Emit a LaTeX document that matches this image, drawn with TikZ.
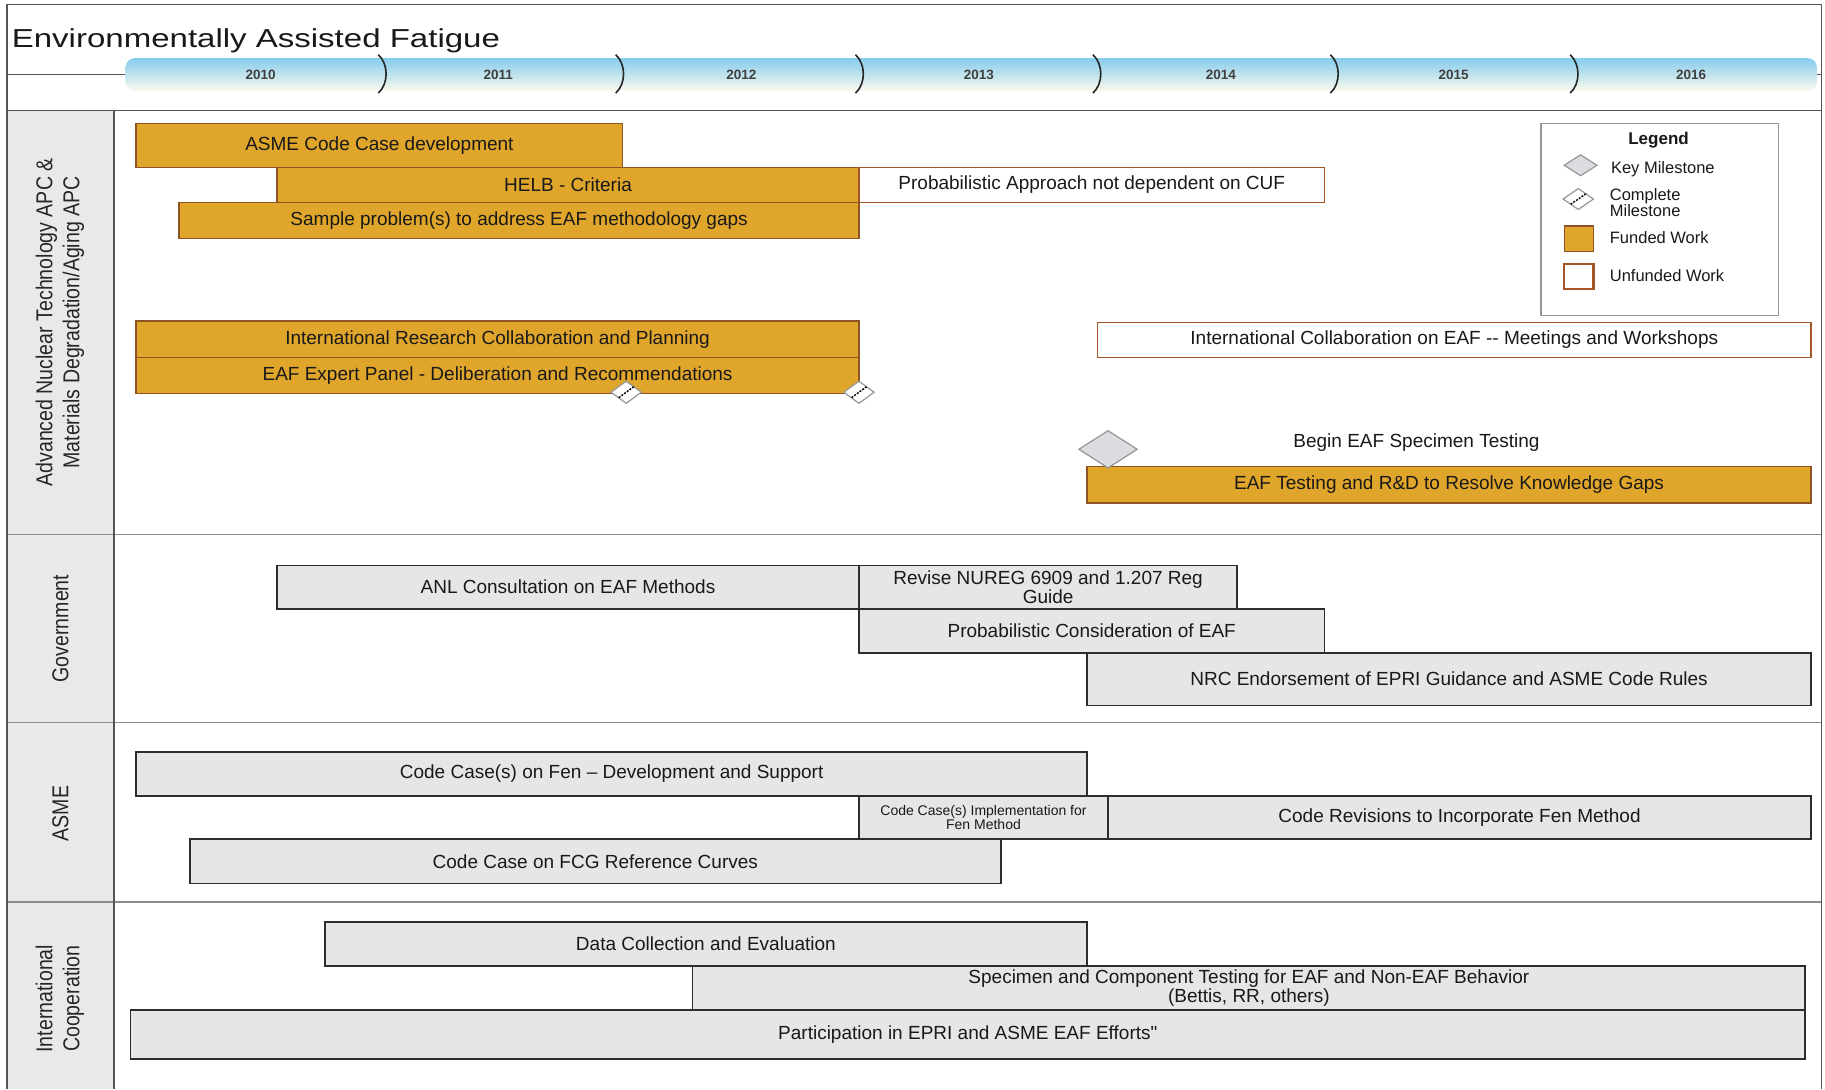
\documentclass[tikz,border=0pt]{standalone}
\usepackage{fontspec}
\setmainfont[Ligatures=TeXOff]{Liberation Sans}
\usepackage{graphicx}

\definecolor{fundfill}{RGB}{224,166,44}
\definecolor{fundline}{RGB}{140,85,35}
\definecolor{unfline}{RGB}{165,85,40}
\definecolor{boxfill}{RGB}{229,230,232}
\definecolor{boxline}{RGB}{45,45,45}
\definecolor{sidefill}{RGB}{232,233,235}
\definecolor{framecol}{RGB}{85,85,85}
\definecolor{sepcol}{RGB}{140,140,140}
\definecolor{barblue}{RGB}{135,204,236}
\definecolor{barpale}{RGB}{250,250,238}
\definecolor{txt}{RGB}{25,25,25}
\definecolor{msfill}{RGB}{220,221,224}
\definecolor{msline}{RGB}{150,150,150}

\tikzset{
  boxtxt/.style={font=\fontsize{19}{19}\selectfont, text=txt, align=center, inner sep=0pt},
  funded/.style={boxtxt, draw=fundline, fill=fundfill, line width=1.5pt},
  unfunded/.style={boxtxt, draw=unfline, fill=white, line width=1.5pt},
  graybox/.style={boxtxt, draw=boxline, fill=boxfill, line width=1.6pt},
  framestyle/.style={draw=framecol, line width=1.6pt},
  sepline/.style={draw=sepcol, line width=1.3pt},
  yearsep/.style={draw=black!85, line width=1.6pt},
  yearlbl/.style={font=\fontsize{13.5}{14}\selectfont\bfseries, text=black!75, inner sep=0pt},
  sidelbl/.style={rotate=90, font=\fontsize{23}{27}\selectfont, text=black!85, inner sep=0pt},
  legtxt/.style={font=\fontsize{16.5}{16}\selectfont, text=txt, anchor=west, align=left, inner sep=0pt},
  plaintxt/.style={font=\fontsize{19}{19}\selectfont, text=txt, inner sep=0pt},
}

% task bar: name, style, x1, x2, y1, y2, text
\newcommand{\ganttbox}[7]{%
  \node[#2, minimum width={(#4-#3)*1.1639pt}, minimum height={(#6-#5)*1.1639pt}]
    (#1) at ({(#3+#4)/2},{(#5+#6)/2}) {#7};}
% key milestone diamond: x, y, width, height
\newcommand{\keymile}[4]{%
  \draw[draw=msline, fill=msfill, line width=1.2pt]
    (#1-#3/2,#2) -- (#1,#2-#4/2) -- (#1+#3/2,#2) -- (#1,#2+#4/2) -- cycle;}
% completed milestone diamond: x, y, width, height
\newcommand{\donemile}[4]{%
  \draw[draw=msline, fill=white, line width=1.2pt]
    (#1-#3/2,#2) -- (#1,#2-#4/2) -- (#1+#3/2,#2) -- (#1,#2+#4/2) -- cycle;
  \draw[black, line width=1.4pt, dash pattern=on 2pt off 1.3pt]
    (#1+#3/4,#2-#4/4) -- (#1-#3/4,#2+#4/4);}

\begin{document}
\begin{tikzpicture}[x=1.1639pt, y=-1.1639pt]
\useasboundingbox (0,0) rectangle (1568,936);
\fill[white] (0,0) rectangle (1568,936);

% side column and frame
\fill[sidefill] (6,95) rectangle (98,936);
\draw[sepline] (6,459) -- (1565,459);
\draw[sepline] (6,621) -- (1565,621);
\draw[sepline] (6,775) -- (1565,775);
\draw[framestyle] (98,95) -- (98,936);
\draw[framestyle] (6,936) -- (6,4) -- (1565,4) -- (1565,936);
\draw[framestyle] (6,95) -- (1565,95);

% title
\node[anchor=base west, inner sep=0pt, font=\fontsize{26}{28}\selectfont, text=black!90]
  (title) at (10,40.5) {\scalebox{1.27}[1]{Environmentally Assisted Fatigue}};

% timeline bar
\draw[framestyle, line width=1.3pt] (6,64) -- (112,64);
\draw[framestyle, line width=1.3pt] (1558,64) -- (1565,64);
\shade[top color=barblue, middle color=barblue, bottom color=barpale, rounded corners=9pt]
  (108,50) rectangle (1561,78);
\foreach \s in {328,532,738,942,1146,1352}
  \draw[yearsep] (\s-3,47) .. controls (\s+6,55) and (\s+6,72) .. (\s-3,80);
\foreach \yr/\xx in {2010/224,2011/428,2012/637,2013/841,2014/1049,2015/1249,2016/1453}
  \node[yearlbl] (y\yr) at (\xx,64) {\yr};

% side labels
\node[sidelbl] (lab1) at (52,277) {\scalebox{0.85}[1]{\begin{tabular}{@{}c@{}}Advanced Nuclear Technology APC \&\\Materials Degradation/Aging APC\end{tabular}}};
\node[sidelbl] (lab2) at (52,540) {\scalebox{0.85}[1]{Government}};
\node[sidelbl] (lab3) at (52,699) {\scalebox{0.85}[1]{ASME}};
\node[sidelbl] (lab4) at (52,858) {\scalebox{0.85}[1]{\begin{tabular}{@{}c@{}}International\\Cooperation\end{tabular}}};

% APC rows
\ganttbox{a1}{funded}{117}{535}{106}{144}{ASME Code Case development}
\ganttbox{a2}{funded}{238}{738}{144}{174}{HELB - Criteria}
\ganttbox{a3}{unfunded}{738}{1138}{144}{174}{Probabilistic Approach not dependent on CUF}
\ganttbox{a4}{funded}{154}{738}{174}{205}{Sample problem(s) to address EAF methodology gaps}
\ganttbox{a5}{funded}{117}{738}{276}{307}{International Research Collaboration and Planning}
\ganttbox{a6}{funded}{117}{738}{307}{338}{EAF Expert Panel - Deliberation and Recommendations}
\ganttbox{a7}{unfunded}{943}{1556}{277}{307}{International Collaboration on EAF -- Meetings and Workshops}
\ganttbox{a8}{funded}{934}{1556}{401}{432}{EAF Testing and R\&D to Resolve Knowledge Gaps}
\donemile{538}{337}{26}{19}
\donemile{738}{337}{26}{19}
\keymile{952}{386}{50}{32}
\node[plaintxt] (begin) at (1217,380) {Begin EAF Specimen Testing};

% legend
\draw[draw=msline, line width=1.2pt, fill=white] (1324,106) rectangle (1528,271);
\node[font=\fontsize{17}{17}\selectfont\bfseries, text=txt, inner sep=0pt] (legtitle) at (1425,120) {Legend};
\keymile{1358}{142}{28}{18}
\node[legtxt] (lkey) at (1384,145) {Key Milestone};
\donemile{1356}{171}{26}{18}
\node[legtxt, font=\fontsize{16.5}{15.5}\selectfont] (ldone) at (1383,174) {Complete\\Milestone};
\draw[draw=fundline, fill=fundfill, line width=1.5pt] (1344,194) rectangle (1369,216);
\node[legtxt] (lfund) at (1383,204) {Funded Work};
\draw[draw=unfline, fill=white, line width=2.2pt] (1344,227) rectangle (1369,248);
\node[legtxt] (lunf) at (1383,237) {Unfunded Work};

% Government rows
\ganttbox{g1}{graybox}{238}{738}{486}{523}{ANL Consultation on EAF Methods}
\ganttbox{g2}{graybox}{738}{1063}{486}{523}{Revise NUREG 6909 and 1.207 Reg\\Guide}
\ganttbox{g3}{graybox}{738}{1138}{523}{561}{Probabilistic Consideration of EAF}
\ganttbox{g4}{graybox}{934}{1556}{561}{606}{NRC Endorsement of EPRI Guidance and ASME Code Rules}

% ASME rows
\ganttbox{s1}{graybox}{117}{934}{646}{684}{Code Case(s) on Fen – Development and Support}
\ganttbox{s2}{graybox, font=\fontsize{14}{14}\selectfont}{738}{952}{684}{721}{Code Case(s) Implementation for\\Fen Method}
\ganttbox{s3}{graybox}{952}{1556}{684}{721}{Code Revisions to Incorporate Fen Method}
\ganttbox{s4}{graybox}{163}{860}{721}{759}{Code Case on FCG Reference Curves}

% International cooperation rows
\ganttbox{i1}{graybox}{279}{934}{792}{830}{Data Collection and Evaluation}
\ganttbox{i2}{graybox}{595}{1551}{830}{868}{Specimen and Component Testing for EAF and Non-EAF Behavior\\(Bettis, RR, others)}
\ganttbox{i3}{graybox}{112}{1551}{868}{910}{Participation in EPRI and ASME EAF Efforts"}
\end{tikzpicture}
\end{document}
